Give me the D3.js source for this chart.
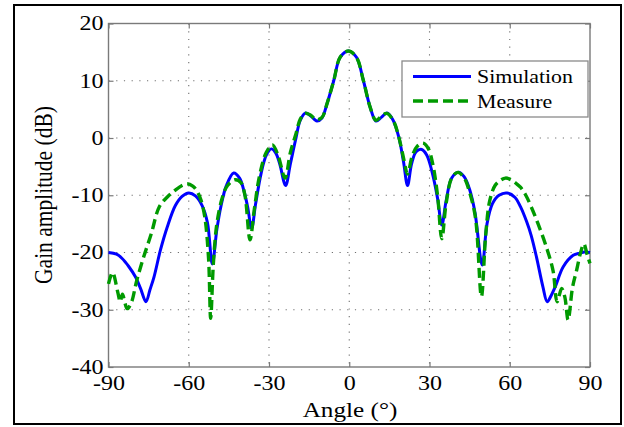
<!DOCTYPE html>
<html>
<head>
<meta charset="utf-8">
<script src="https://cdn.jsdelivr.net/npm/d3@7"></script>
<style>
  body { margin: 0; background: #fff; }
  svg { display: block; }
</style>
</head>
<body>
<svg id="chart" width="624" height="427"></svg>
<script>
// values
const simAngle = [-90, -87, -85, -82.5, -80, -78, -76, -74.5, -73, -70.6, -68, -65, -62.5, -60, -57.5, -55, -53, -51.2, -49.5, -48, -46, -43.2, -41, -39.5, -38, -36.5, -35, -33, -31, -29.1, -27.5, -26, -23.8, -22, -20.1, -18.3, -16.4, -14.5, -12.1, -10.2, -8.3, -5.8, -3.4, -0.3, 2.7, 5.3, 7.8, 10, 12, 14.1, 16.3, 18.5, 20.3, 21.8, 23.3, 25, 27.1, 29, 31, 33, 34.6, 36.2, 38.3, 40.8, 43, 45, 47, 49.7, 51.5, 53.5, 56, 59, 62, 64, 66.3, 68, 70, 72.4, 74, 75.5, 77, 80, 83.7, 86.2, 88, 90]
const simGain = [-20, -20.3, -21, -22.4, -24.2, -26.3, -28.6, -26.5, -24.3, -19.6, -15.5, -11.8, -10.2, -9.6, -10.1, -11.8, -14.8, -22, -16, -12, -8.4, -6.1, -7, -9, -12, -15.8, -11.5, -6.3, -3, -1.9, -2.6, -4.5, -8.3, -4.5, -0.4, 3.1, 4.35, 3.9, 2.96, 3.5, 6, 10, 14.1, 15.2, 14.1, 10, 5.4, 2.96, 3.6, 4.35, 3.2, 0.2, -4.2, -8.3, -4.5, -2.4, -2, -3, -6, -10.5, -15.2, -11, -7, -6, -6.8, -9, -13, -22.2, -15, -11.5, -10, -9.6, -10.4, -12, -14.6, -17, -20.8, -26, -28.6, -27.5, -26, -22.5, -20.5, -20.1, -19.9, -20]

const measAngle = [-90, -88.5, -86.5, -85.6, -84.8, -83, -81.5, -79.5, -77, -74, -71, -68, -65, -62.5, -60.6, -58.5, -57, -55.4, -54, -52.6, -51.8, -50.8, -49.5, -47.5, -45.5, -42.7, -40.5, -39, -37.1, -35.5, -33.5, -31, -28.7, -26.5, -24, -22, -20, -18.3, -16.5, -14.5, -12.3, -10.2, -8.3, -5.8, -3.4, -0.3, 2.7, 5.3, 7.8, 10, 12, 14, 16.5, 18.5, 20.3, 21.8, 23.5, 25.5, 27.6, 29.5, 31.2, 33, 34.6, 36.2, 38.3, 40.6, 43, 45, 47.2, 49.4, 51, 52.5, 54.5, 56.5, 58.4, 60.5, 62.3, 64, 66, 68, 70.6, 73.8, 76.2, 77.7, 79.4, 80.6, 81.8, 83.5, 85, 86.5, 87.7, 89, 90]
const measGain = [-25.5, -23.5, -27, -28.6, -27.3, -29.8, -28.8, -25, -21, -16.7, -12, -10.3, -9.1, -8.3, -8, -8.4, -9.2, -10.9, -13.8, -21, -31.5, -22, -15, -10.5, -8.3, -7.3, -7.8, -10, -17.8, -12.5, -6.5, -2.5, -1.2, -3.2, -7, -2.5, 0.6, 3.3, 4.3, 4, 3.2, 3.6, 6, 10, 14.1, 15.2, 14.1, 10, 5.4, 3.1, 3.8, 4.3, 3, 0.2, -3.5, -6.3, -3.2, -1.4, -0.9, -1.8, -4.5, -10, -17.6, -11.5, -7, -6, -7, -9.5, -14, -27.7, -17, -11, -8.3, -7.4, -7, -7.3, -7.9, -8.6, -10, -12, -15, -19.2, -23.2, -28.6, -26.3, -27.8, -31.8, -26, -23.1, -20, -18.5, -20.5, -21.9]

const xTicks = [-90, -60, -30, 0, 30, 60, 90]
const yTicks = [-40, -30, -20, -10, 0, 10, 20]
const seriesNames = ['Simulation', 'Measure']

const blue = '#0000ff'
const green = '#009a00'
const font = '"Liberation Serif", "Times New Roman", serif'
const stretch = 1.2 // the picture text is a bit wide

const svg = d3.select('#chart')

// plot box
const plotL = 108.5, plotR = 590, plotT = 23.5, plotB = 367

const xScale = d3.scaleLinear().domain([-90, 90]).range([plotL, plotR])
const yScale = d3.scaleLinear().domain([-40, 20]).range([plotB, plotT])

// outer frame
svg.append('rect')
  .attr('x', 14).attr('y', 5)
  .attr('width', 607).attr('height', 419)
  .attr('fill', 'none').attr('stroke', '#000').attr('stroke-width', 2)

// dotted grid
const grid = svg.append('g')
grid.selectAll('line.gx')
  .data(xTicks.slice(1, -1))
  .enter().append('line')
  .attr('class', 'gx')
  .attr('x1', d => xScale(d)).attr('x2', d => xScale(d))
  .attr('y1', plotT).attr('y2', plotB)
grid.selectAll('line.gy')
  .data(yTicks.slice(1, -1))
  .enter().append('line')
  .attr('class', 'gy')
  .attr('y1', d => yScale(d)).attr('y2', d => yScale(d))
  .attr('x1', plotL).attr('x2', plotR)
grid.selectAll('line')
  .attr('stroke', '#707070')
  .attr('stroke-width', 1.1)
  .attr('stroke-dasharray', '1.2,6.5')

// axes, ticks pointing inward like matlab; plain hyphen for negatives
const fmt = d => String(d)
const xAxis = d3.axisBottom(xScale).tickValues(xTicks).tickFormat(fmt).tickSizeInner(-5).tickSizeOuter(0).tickPadding(9)
const yAxis = d3.axisLeft(yScale).tickValues(yTicks).tickFormat(fmt).tickSizeInner(-5).tickSizeOuter(0).tickPadding(5)

svg.append('g').attr('transform', `translate(0, ${plotB})`).call(xAxis)
svg.append('g').attr('transform', `translate(${plotL}, 0)`).call(yAxis)

// top and right ticks
svg.append('g').attr('transform', `translate(0, ${plotT})`)
  .call(d3.axisTop(xScale).tickValues(xTicks).tickSizeInner(-5).tickSizeOuter(0).tickFormat(''))
svg.append('g').attr('transform', `translate(${plotR}, 0)`)
  .call(d3.axisRight(yScale).tickValues(yTicks).tickSizeInner(-5).tickSizeOuter(0).tickFormat(''))

svg.selectAll('path.domain').remove()
svg.selectAll('.tick line').attr('stroke', '#7a7a7a').attr('stroke-width', 1.2)

svg.selectAll('.tick text')
  .style('font-family', font)
  .style('font-size', '20px')
  .attr('fill', '#000')
  .each(function () {
    const t = d3.select(this)
    const x0 = +t.attr('x') || 0
    t.attr('x', x0 / stretch).attr('transform', `scale(${stretch},1)`)
  })

// axes box
svg.append('rect')
  .attr('x', plotL).attr('y', plotT)
  .attr('width', plotR - plotL).attr('height', plotB - plotT)
  .attr('fill', 'none').attr('stroke', '#7a7a7a').attr('stroke-width', 1.4)

// curves
const line = d3.line()
  .x(d => xScale(d[0]))
  .y(d => yScale(d[1]))
  .curve(d3.curveCatmullRom.alpha(0.5))

const simData = simAngle.map((a, i) => [a, simGain[i]])
const measData = measAngle.map((a, i) => [a, measGain[i]])

svg.append('path')
  .attr('d', line(simData))
  .attr('fill', 'none').attr('stroke', blue).attr('stroke-width', 3)
  .attr('stroke-linejoin', 'round')

svg.append('path')
  .attr('d', line(measData))
  .attr('fill', 'none').attr('stroke', green).attr('stroke-width', 3.4)
  .attr('stroke-dasharray', '10,5')

// axis titles
svg.append('text')
  .attr('transform', `translate(350, 416.5) scale(${stretch},1)`)
  .attr('text-anchor', 'middle')
  .style('font-family', font).style('font-size', '21px')
  .text('Angle (°)')

svg.append('text')
  .attr('transform', `translate(52, 195) scale(${stretch},1) rotate(-90)`)
  .attr('text-anchor', 'middle')
  .style('font-family', font).style('font-size', '21.5px')
  .text('Gain amplitude (dB)')

// legend
const legend = svg.append('g')
legend.append('rect')
  .attr('x', 402).attr('y', 61).attr('width', 186).attr('height', 56)
  .attr('fill', '#fff').attr('stroke', '#8a8a8a').attr('stroke-width', 1.3)

const legendRows = [
  { name: seriesNames[0], color: blue, dash: null, w: 3 },
  { name: seriesNames[1], color: green, dash: '10,5', w: 3.4 }
]
legendRows.forEach((r, i) => {
  const ly = 76.5 + i * 24.5
  legend.append('line')
    .attr('x1', 413).attr('x2', 471).attr('y1', ly).attr('y2', ly)
    .attr('stroke', r.color).attr('stroke-width', r.w)
    .attr('stroke-dasharray', r.dash)
  legend.append('text')
    .attr('transform', `translate(477, ${ly + 6.5}) scale(1.15,1)`)
    .style('font-family', font).style('font-size', '19px')
    .text(r.name)
})
</script>
</body>
</html>
